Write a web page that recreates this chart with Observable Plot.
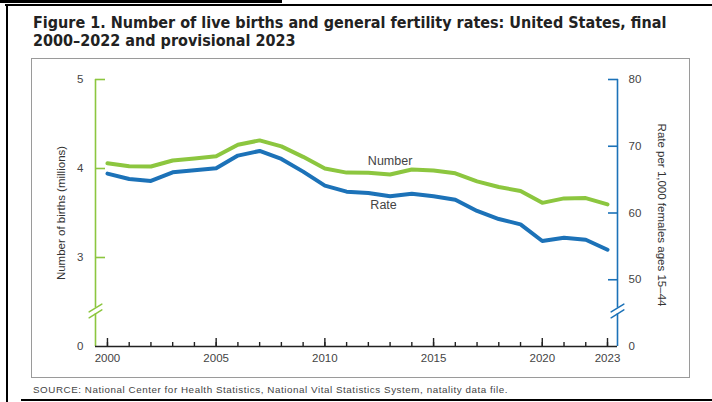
<!DOCTYPE html>
<html><head><meta charset="utf-8">
<script src="https://cdn.jsdelivr.net/npm/d3@7"></script>
<script src="https://cdn.jsdelivr.net/npm/@observablehq/plot@0.6"></script>
<style>
html,body{margin:0;padding:0;background:#fff;}
#page{position:relative;width:712px;height:402px;overflow:hidden;font-family:"Liberation Sans",Arial,sans-serif;}
.blk{position:absolute;background:#000;}
#title{position:absolute;left:33px;top:14px;font-family:"Liberation Sans Narrow","DejaVu Sans Condensed",sans-serif;font-stretch:condensed;font-weight:bold;font-size:16px;line-height:18px;color:#222;white-space:nowrap;}
#box{position:absolute;left:31px;top:58px;width:657px;height:318px;border:1.5px solid #9a9a9a;}
#chart{position:absolute;left:31px;top:58px;}
#source{position:absolute;left:33px;top:384px;font-size:9.8px;letter-spacing:0.56px;color:#444;white-space:nowrap;}
</style></head><body>
<div id="page">
  <div class="blk" style="left:0;top:0;width:282px;height:3px;"></div>
  <div class="blk" style="left:5px;top:4px;width:707px;height:2px;"></div>
  <div class="blk" style="left:6px;top:4px;width:2px;height:398px;"></div>
  <div class="blk" style="left:21px;top:399px;width:691px;height:2px;"></div>
  <div id="title">Figure 1. Number of live births and general fertility rates: United States, final<br>2000–2022 and provisional 2023</div>
  <div id="box"></div>
  <div id="chart"></div>
  <div id="source">SOURCE: National Center for Health Statistics, National Vital Statistics System, natality data file.</div>
</div>
<script>
// ---- data ----
const years = [2000,2001,2002,2003,2004,2005,2006,2007,2008,2009,2010,2011,2012,2013,2014,2015,2016,2017,2018,2019,2020,2021,2022,2023];
const birthsMillions = [4.059,4.026,4.022,4.090,4.112,4.138,4.266,4.316,4.248,4.131,3.999,3.954,3.953,3.932,3.988,3.978,3.946,3.856,3.792,3.748,3.614,3.664,3.668,3.596];
const fertilityRate = [65.9,65.1,64.8,66.1,66.4,66.7,68.6,69.3,68.1,66.2,64.1,63.2,63.0,62.5,62.9,62.5,62.0,60.3,59.1,58.3,55.8,56.3,56.0,54.5];
const seriesNames = ["Number","Rate"];
const xMajorTicks = [2000,2005,2010,2015,2020,2023];
const leftTicks = [2,3,4,5];          // 2 shown as "0" (broken axis)
const rightTicks = [40,50,60,70,80];  // 40 shown as "0" (broken axis)
const leftTitle = "Number of births (millions)";
const rightTitle = "Rate per 1,000 females ages 15–44";

const green = "#8cc63f", blue = "#1c72b8";
// map rate axis (40..80) onto birth axis (2..5)
const rateToY = r => 2 + (r - 40) * 3 / 40;

const rows = [
  ...years.map((year, i) => ({year, series: "Number", value: birthsMillions[i]})),
  ...years.map((year, i) => ({year, series: "Rate", value: rateToY(fertilityRate[i])}))
];

const xDom = [1999.45, 2023.46];
const breakY = 2.40;
const slash = {draw(ctx, l) { ctx.moveTo(0, 0); ctx.lineTo(0, -l); }};

const plot = Plot.plot({
  width: 659, height: 320,
  marginLeft: 64, marginRight: 73, marginTop: 21, marginBottom: 32,
  style: {background: "transparent", fontFamily: "'Liberation Sans', Arial, sans-serif", fontSize: "11.5px", color: "#444", overflow: "visible"},
  x: {domain: xDom},
  y: {domain: [2, 5]},
  color: {domain: seriesNames, range: [green, blue]},
  marks: [
    // axis lines
    Plot.ruleX([xDom[0]], {stroke: green, strokeWidth: 1.6}),
    Plot.ruleX([xDom[1]], {stroke: blue, strokeWidth: 1.6}),
    Plot.ruleY([2], {stroke: "#222", strokeWidth: 1.6}),
    // x ticks (inward)
    Plot.axisX({ticks: years, tickSize: -4, tickFormat: () => "", stroke: "#222", strokeWidth: 1.4, label: null}),
    Plot.axisX({ticks: xMajorTicks, tickSize: -8, tickFormat: () => "", stroke: "#222", strokeWidth: 1.4, label: null}),
    Plot.axisX({ticks: xMajorTicks, tickSize: 0, tickPadding: 7, tickFormat: d => String(d), fill: "#444", label: null}),
    // left axis
    Plot.axisY({anchor: "left", ticks: leftTicks.filter(d => d > 2), tickSize: -10, tickFormat: () => "", stroke: green, strokeWidth: 1.6, label: null}),
    Plot.axisY({anchor: "left", ticks: leftTicks, tickSize: 0, tickPadding: 12, tickFormat: d => d === 2 ? "0" : String(d), fill: "#444", label: null}),
    // right axis
    Plot.axisY({anchor: "right", ticks: rightTicks.filter(d => d > 40).map(rateToY), tickSize: -10, tickFormat: () => "", stroke: blue, strokeWidth: 1.6, label: null}),
    Plot.axisY({anchor: "right", ticks: rightTicks.map(rateToY), tickSize: 0, tickPadding: 11, tickFormat: (d, i) => { const r = Math.round(40 + (d - 2) * 40 / 3); return r === 40 ? "0" : String(r); }, fill: "#444", label: null}),
    // axis breaks
    Plot.ruleX([xDom[0], xDom[1]], {y1: breakY - 0.032, y2: breakY + 0.032, stroke: "white", strokeWidth: 5}),
    Plot.vector([{x: xDom[0], c: green}, {x: xDom[1], c: blue}], {x: "x", y: () => breakY, length: 15, rotate: 58, anchor: "middle", shape: slash, stroke: d => d.c, strokeWidth: 1.5, dy: -2.9}),
    Plot.vector([{x: xDom[0], c: green}, {x: xDom[1], c: blue}], {x: "x", y: () => breakY, length: 15, rotate: 58, anchor: "middle", shape: slash, stroke: d => d.c, strokeWidth: 1.5, dy: 2.9}),
    // axis titles
    Plot.text([leftTitle], {frameAnchor: "left", textAnchor: "middle", lineAnchor: "middle", text: d => d, rotate: -90, dx: -34, fill: "#333", fontSize: 11.5}),
    Plot.text([rightTitle], {frameAnchor: "right", textAnchor: "middle", lineAnchor: "middle", text: d => d, rotate: 90, dx: 44, dy: 2, fill: "#333", fontSize: 11.5}),
    // series
    Plot.line(rows, {x: "year", y: "value", z: "series", stroke: "series", strokeWidth: 4, strokeLinejoin: "round"}),
    // series labels
    Plot.text(["Number"], {x: () => 2013, y: () => 4.08, text: d => d, fill: "#444", fontSize: 12.5}),
    Plot.text(["Rate"], {x: () => 2012.7, y: () => 3.595, text: d => d, fill: "#444", fontSize: 12.5})
  ]
});
document.getElementById("chart").appendChild(plot);
</script>
</body></html>
